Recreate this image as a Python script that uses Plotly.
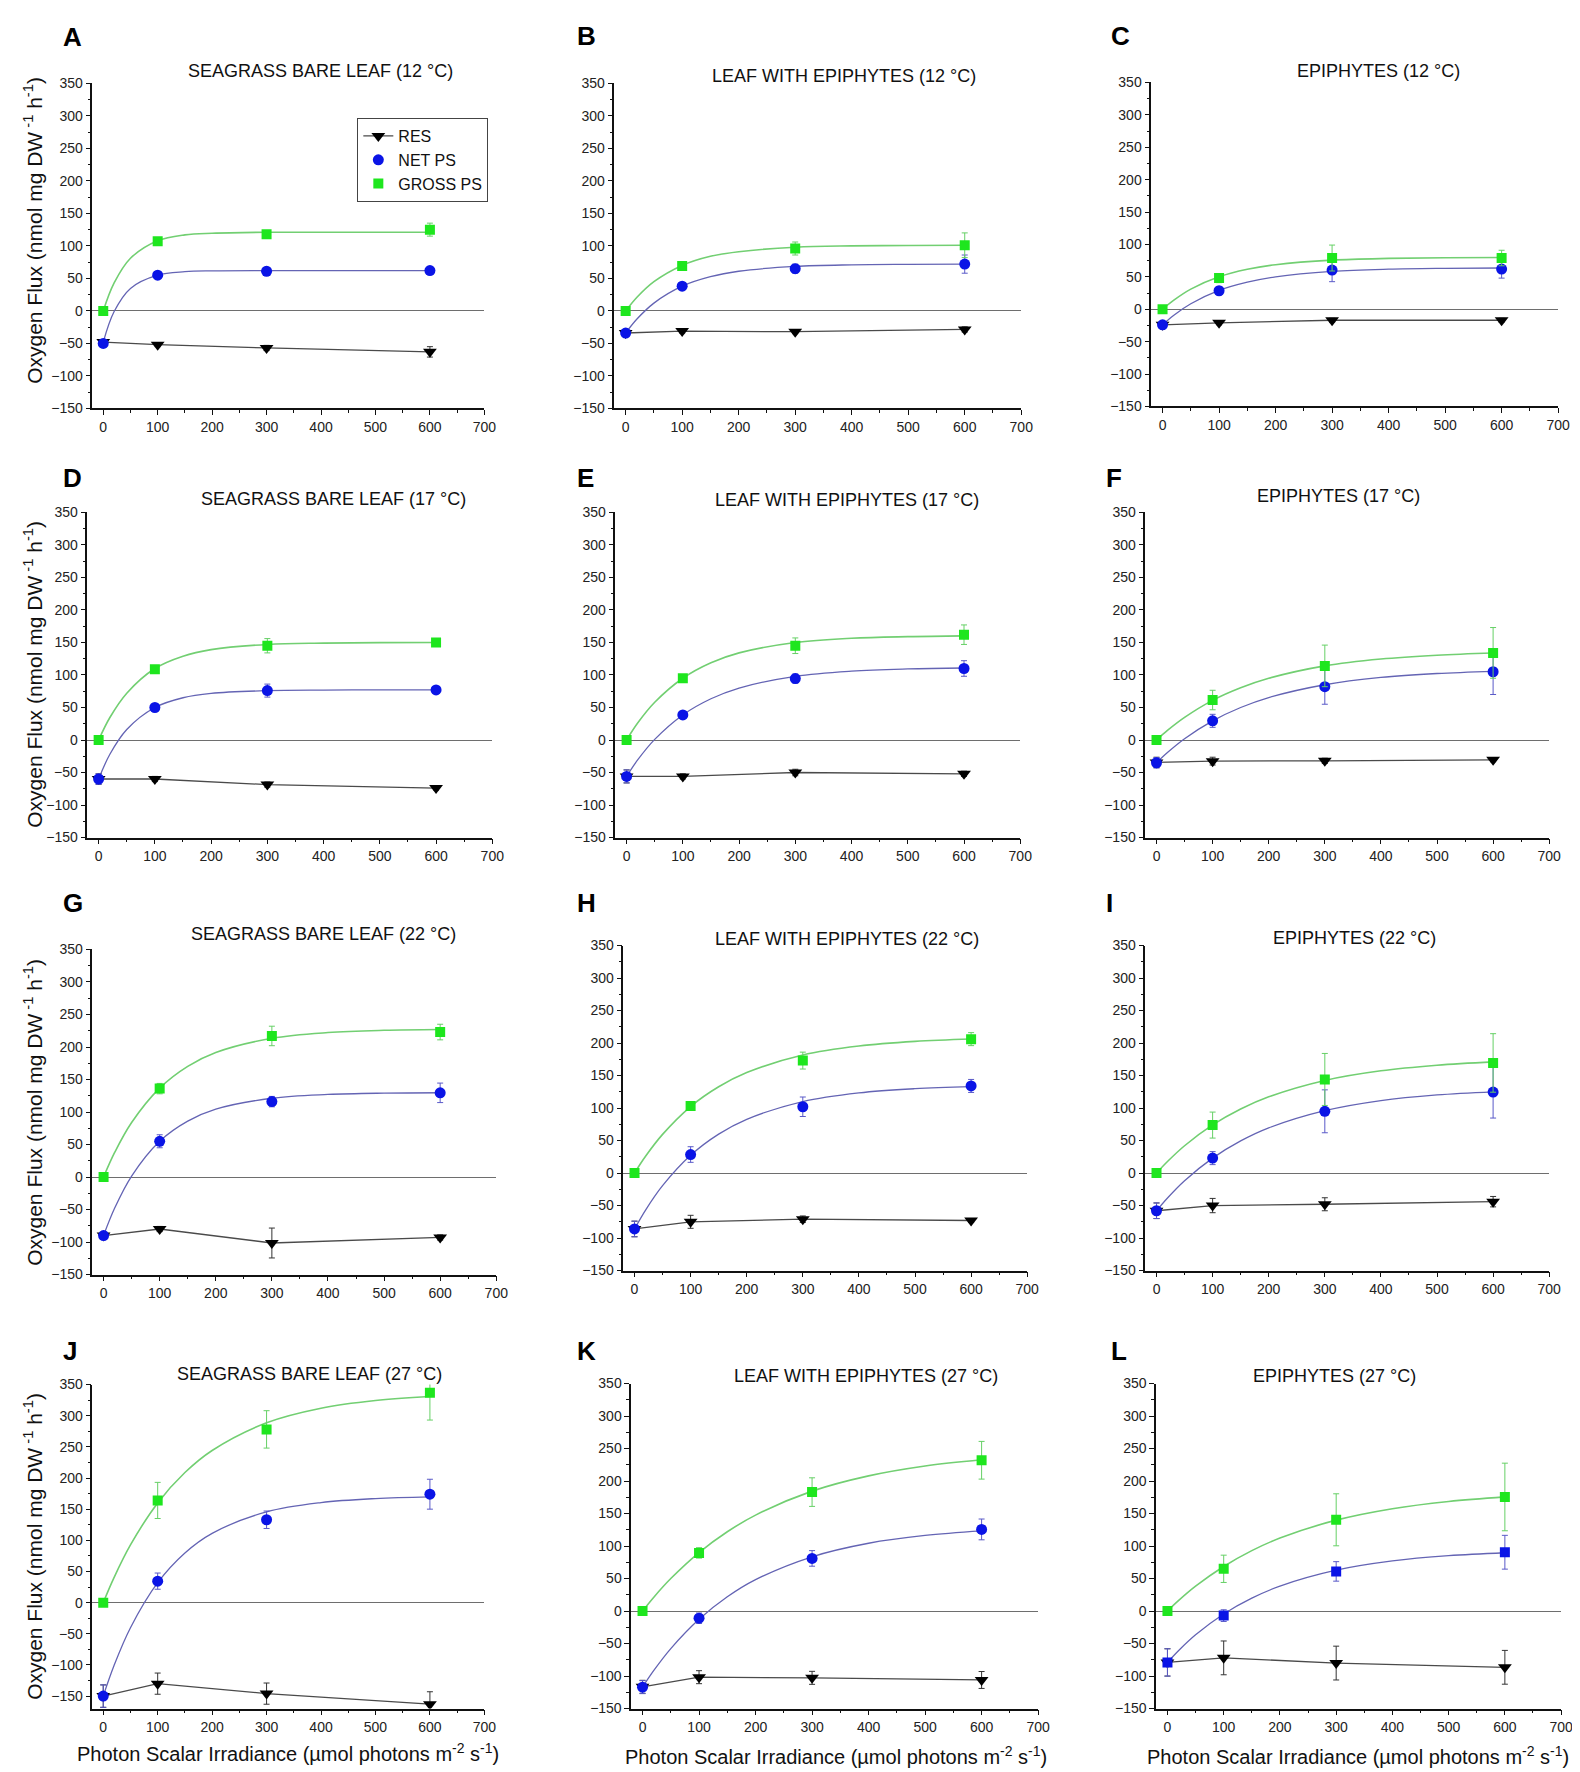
import plotly.graph_objects as go

# ---------------- data ----------------
IRRADIANCE = [0, 100, 300, 600]
FIT_X = [0, 20, 50, 100, 150, 200, 300, 400, 500, 600]

PANEL_LETTERS = ["A", "B", "C", "D", "E", "F", "G", "H", "I", "J", "K", "L"]
PANEL_TITLES = [
    "SEAGRASS BARE LEAF (12 °C)", "LEAF WITH EPIPHYTES (12 °C)", "EPIPHYTES (12 °C)",
    "SEAGRASS BARE LEAF (17 °C)", "LEAF WITH EPIPHYTES (17 °C)", "EPIPHYTES (17 °C)",
    "SEAGRASS BARE LEAF (22 °C)", "LEAF WITH EPIPHYTES (22 °C)", "EPIPHYTES (22 °C)",
    "SEAGRASS BARE LEAF (27 °C)", "LEAF WITH EPIPHYTES (27 °C)", "EPIPHYTES (27 °C)",
]

RES = [
    [-48, -52, -57, -63], [-34, -31, -32, -28.5], [-24, -21, -17, -17],
    [-60, -60, -68.6, -74], [-56, -56, -50, -52], [-34.5, -32.5, -32, -30.5],
    [-90, -80, -101.5, -93], [-86, -75, -71, -73], [-58, -50, -48, -44],
    [-150, -130, -146, -163], [-116.5, -101.7, -102.7, -106], [-79, -72, -80, -86.5],
]
RES_ERR = [
    [3, 3, 4, 8], [4, 3, 3, 4], [3, 3, 3, 3],
    [8, 4, 4, 3], [10, 4, 5, 4], [8, 6, 4, 3],
    [5, 4, 23, 4], [12, 10, 5, 3], [12, 11, 10, 8],
    [18, 17, 17, 20], [10, 10, 10, 13], [21, 26, 26, 26],
]
NET = [
    [-50, 55, 61, 62], [-34, 38, 65, 72], [-24, 28.5, 60.5, 62],
    [-60, 50, 76, 77], [-56, 38.6, 94.5, 110], [-35, 29.5, 82, 105],
    [-90, 55, 116, 129.5], [-86, 28.5, 102, 134], [-58, 23, 95, 124.6],
    [-150, 34.5, 133, 174], [-117, -11, 81, 125.6], [-79, -7, 61, 90.5],
]
NET_ERR = [
    [3, 3, 3, 3], [4, 4, 7, 14], [3, 6, 18, 14],
    [8, 4, 10, 4], [10, 4, 7, 12], [8, 10, 27, 35],
    [5, 10, 8, 15], [12, 12, 15, 10], [12, 10, 33, 40],
    [18, 13, 14, 24], [10, 8, 12, 16], [21, 9, 15, 26],
]
GROSS = [
    [0, 107, 118, 125], [0, 69, 96, 101], [0, 48, 79, 79],
    [0, 109, 145, 150], [0, 95, 145, 162], [0, 61.5, 114, 134],
    [0, 136, 217, 223], [0, 103, 173, 206], [0, 73.8, 144, 169.4],
    [0, 164, 278, 337], [0, 89.5, 183, 232], [0, 65, 140.4, 175.5],
]
GROSS_ERR = [
    [2, 3, 3, 10], [1, 3, 10, 19], [1, 7, 20, 12],
    [4, 5, 11, 5], [4, 5, 12, 15], [4, 15, 32, 39],
    [3, 8, 15, 12], [3, 4, 13, 10], [3, 20, 40, 45],
    [3, 29, 30, 44], [3, 8, 22, 29], [3, 21, 40, 52],
]
# fitted curves at FIT_X
GROSS_FIT = [
    [0, 43, 81, 108, 117, 119.5, 121, 121, 121, 121],
    [0, 21, 45, 70, 84, 91, 98, 100, 100.7, 101],
    [0, 14, 31, 50, 61.6, 68.7, 75.8, 78.4, 79.4, 79.8],
    [0, 34.6, 72, 110, 129, 139, 147, 149, 149.8, 150],
    [0, 26.4, 58, 95, 118.8, 134, 150, 156.5, 159, 160.2],
    [0, 15.1, 34.8, 61, 80.3, 94.9, 114, 124.5, 130.4, 133.8],
    [0, 38.2, 83.9, 136.8, 170.3, 191.6, 213.4, 222.2, 225.7, 227],
    [0, 26.2, 59.5, 102.3, 132.7, 154.6, 181.6, 195.4, 202.5, 206.2],
    [0, 18.1, 42, 74, 98.5, 117.3, 142.5, 157.3, 165.9, 171],
    [0, 40.6, 92.6, 160, 208.8, 244.2, 288.6, 312, 324.3, 330.8],
    [0, 21.4, 50, 90, 122, 147.6, 184.5, 208, 223.2, 232.8],
    [0, 16.3, 38.2, 68.6, 93, 112.3, 139.9, 157.5, 168.6, 175.7],
]
NET_FIT = [
    [-48, -1, 34.6, 55, 60.3, 61.6, 62, 62, 62, 62],
    [-34, -12.5, 12, 38, 52.6, 61, 68.5, 70.9, 71.6, 71.9],
    [-24, -9.2, 8.4, 29, 41.7, 50, 58.4, 61.8, 63.1, 63.6],
    [-60, -21.9, 16.2, 50, 65, 71.7, 75.9, 76.8, 77, 77],
    [-56, -30.3, 1, 38.6, 63.4, 79.9, 97.9, 105.9, 109.3, 110.8],
    [-35, -18.9, 2, 29.5, 50, 65.3, 85, 96.2, 102.3, 105.7],
    [-90, -47.4, 1.5, 55, 86, 104.4, 121.2, 127, 129, 129.6],
    [-86, -56.5, -19.4, 27.3, 59.9, 82.7, 110, 123.3, 129.8, 133],
    [-58, -38, -11.8, 23, 49.4, 69.5, 96, 111.5, 120.2, 125],
    [-150, -100.6, -40.3, 32, 79.7, 111.2, 145.6, 160.5, 167, 169.8],
    [-117, -91.4, -57.8, -12.7, 21.9, 48.3, 83.5, 104.3, 116.3, 123.3],
    [-79, -60.6, -36.5, -4.4, 19.9, 38.4, 62.9, 77.1, 85.2, 89.7],
]
X_TICKS = [0, 100, 200, 300, 400, 500, 600, 700]
Y_TICKS = [-150, -100, -50, 0, 50, 100, 150, 200, 250, 300, 350]

# ---------------- layout geometry (pixels) ----------------
W, H = 1580, 1772
# (x0, x1, ytop, ybottom) of each plot area
BOXES = [
    (85, 480, 68, 396), (611, 1021, 68, 396), (1152, 1562, 67, 394),
    (80, 488, 501, 829), (612, 1020, 501, 829), (1146, 1553, 501, 829),
    (85, 492, 942, 1270), (620, 1027, 938, 1266), (1146, 1553, 938, 1266),
    (85, 480, 1381, 1708), (628, 1038, 1380, 1708), (1157, 1565, 1380, 1708),
]
Y_RANGES = [[-150, 350]] * 9 + [[-170, 350], [-150, 350], [-150, 350]]
LETTER_POS = [
    (53, 21), (571, 20), (1109, 20),
    (53, 466), (571, 466), (1104, 466),
    (53, 895), (571, 895), (1104, 895),
    (53, 1347), (571, 1347), (1109, 1347),
]
TITLE_POS = [
    (315, 55), (842, 61), (1381, 56),
    (328, 487), (845, 488), (1341, 484),
    (318, 926), (845, 931), (1357, 930),
    (304, 1370), (865, 1372), (1337, 1372),
]
YTITLE_POS = [(25, 216), (25, 664), (25, 1106), (25, 1544)]
XTITLE_POS = [(282, 1752), (834, 1755), (1360, 1755)]

FONT = "Liberation Sans, Arial, sans-serif"
GREEN = "#1ee61e"
GREEN_LINE = "#72cf72"
GREEN_ERR = "#66d066"
BLUE = "#0a14e6"
BLUE_LINE = "#6464b4"
BLUE_ERR = "#5a5ac8"
BLACK = "#000000"
RES_LINE = "#4a4a4a"

fig = go.Figure()
layout = dict(
    width=W, height=H, paper_bgcolor="white", plot_bgcolor="white",
    margin=dict(l=0, r=0, t=0, b=0), font=dict(family=FONT, color="#111"),
    showlegend=True,
)

def px2x(p):
    return p / W

def px2y(p):
    return 1 - p / H

annotations = []
for i in range(12):
    n = "" if i == 0 else str(i + 1)
    xa, ya = "x" + n, "y" + n
    x0, x1, yt, yb = BOXES[i]
    layout["xaxis" + n] = dict(
        domain=[px2x(x0), px2x(x1)], anchor=ya, range=[-20, 700],
        tickvals=X_TICKS, ticks="outside", ticklen=5, tickwidth=1, tickcolor="#111",
        minor=dict(ticks="outside", dtick=50, tick0=0, ticklen=3, tickcolor="#111"),
        showline=True, linecolor="#111", linewidth=1.5, showgrid=False, zeroline=False,
        tickfont=dict(size=14, family=FONT, color="#222"),
    )
    layout["yaxis" + n] = dict(
        domain=[px2y(yb), px2y(yt)], anchor=xa, range=Y_RANGES[i],
        tickvals=Y_TICKS, ticks="outside", ticklen=5, tickwidth=1, tickcolor="#111",
        minor=dict(ticks="outside", dtick=25, tick0=0, ticklen=3, tickcolor="#111"),
        showline=True, linecolor="#111", linewidth=1.5, showgrid=False,
        zeroline=True, zerolinecolor="#6e6e6e", zerolinewidth=1.3,
        tickfont=dict(size=14, family=FONT, color="#222"),
    )
    show = i == 0
    # fitted curves
    fig.add_trace(go.Scatter(
        x=FIT_X, y=GROSS_FIT[i], mode="lines", xaxis=xa, yaxis=ya, showlegend=False,
        line=dict(color=GREEN_LINE, width=1.6, shape="spline", smoothing=1.0), hoverinfo="skip"))
    fig.add_trace(go.Scatter(
        x=FIT_X, y=NET_FIT[i], mode="lines", xaxis=xa, yaxis=ya, showlegend=False,
        line=dict(color=BLUE_LINE, width=1.3, shape="spline", smoothing=1.0), hoverinfo="skip"))
    # respiration
    fig.add_trace(go.Scatter(
        x=IRRADIANCE, y=RES[i], mode="lines+markers", name="RES", xaxis=xa, yaxis=ya,
        showlegend=show, line=dict(color=RES_LINE, width=1.3),
        marker=dict(symbol="triangle-down", size=12, color=BLACK),
        error_y=dict(type="data", array=RES_ERR[i], color="#333", thickness=1, width=3)))
    # net photosynthesis
    fig.add_trace(go.Scatter(
        x=IRRADIANCE, y=NET[i], mode="markers", name="NET PS", xaxis=xa, yaxis=ya,
        showlegend=show,
        marker=dict(symbol="square" if i == 11 else "circle", size=11 if i != 11 else 10, color=BLUE),
        error_y=dict(type="data", array=NET_ERR[i], color=BLUE_ERR, thickness=1, width=3)))
    # gross photosynthesis
    fig.add_trace(go.Scatter(
        x=IRRADIANCE, y=GROSS[i], mode="markers", name="GROSS PS", xaxis=xa, yaxis=ya,
        showlegend=show, marker=dict(symbol="square", size=10, color=GREEN),
        error_y=dict(type="data", array=GROSS_ERR[i], color=GREEN_ERR, thickness=1, width=3)))

    lx, ly = LETTER_POS[i]
    annotations.append(dict(
        x=px2x(lx), y=px2y(ly), xref="paper", yref="paper", xanchor="left", yanchor="middle",
        text="<b>" + PANEL_LETTERS[i] + "</b>", showarrow=False,
        font=dict(size=26, family=FONT, color="#000")))
    tx, ty = TITLE_POS[i]
    annotations.append(dict(
        x=px2x(tx), y=px2y(ty), xref="paper", yref="paper", xanchor="center", yanchor="middle",
        text=PANEL_TITLES[i], showarrow=False, font=dict(size=18, family=FONT, color="#111")))

for (yx, yy) in YTITLE_POS:
    annotations.append(dict(
        x=px2x(yx), y=px2y(yy), xref="paper", yref="paper", xanchor="center", yanchor="middle",
        text="Oxygen Flux (nmol mg DW<sup> -1</sup> h<sup>-1</sup>)", textangle=-90,
        showarrow=False, font=dict(size=21, family=FONT, color="#111")))
for (xx, xy) in XTITLE_POS:
    annotations.append(dict(
        x=px2x(xx), y=px2y(xy), xref="paper", yref="paper", xanchor="center", yanchor="middle",
        text="Photon Scalar Irradiance (µmol photons m<sup>-2</sup> s<sup>-1</sup>)",
        showarrow=False, font=dict(size=20, family=FONT, color="#111")))

layout["annotations"] = annotations
layout["legend"] = dict(
    x=px2x(352), y=px2y(103), xanchor="left", yanchor="top",
    bordercolor="#444", borderwidth=1, bgcolor="white",
    font=dict(size=16, family=FONT, color="#111"), tracegroupgap=0, itemwidth=30,
)
fig.update_layout(**layout)
fig.write_html("out.html")
